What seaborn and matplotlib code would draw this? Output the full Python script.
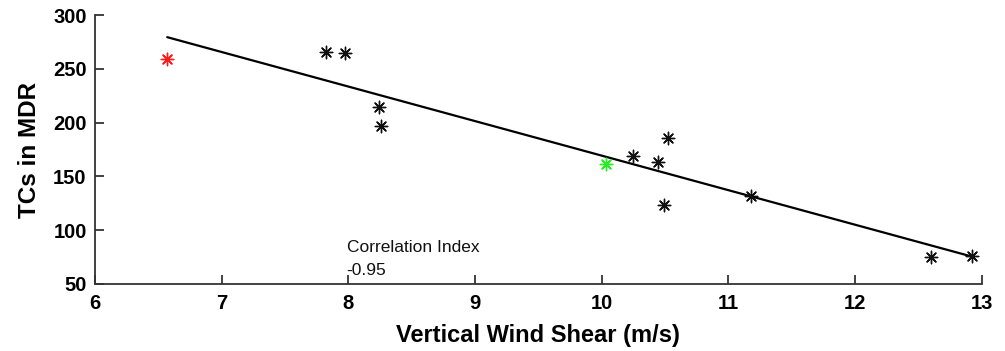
import matplotlib
matplotlib.use("Agg")
import matplotlib.pyplot as plt
import seaborn as sns
import pandas as pd

shear = [6.57, 7.82, 7.97, 8.24, 8.26, 10.03, 10.25, 10.44, 10.52, 10.49, 11.18, 12.60, 12.92]
tcs = [259, 266, 265, 215, 197, 162, 169, 163, 186, 123, 132, 75, 76]
group = ["red", "black", "black", "black", "black", "green", "black", "black",
         "black", "black", "black", "black", "black"]
palette = {"black": "#111111", "red": "#ff1a1a", "green": "#22ee22"}
xticks = [6, 7, 8, 9, 10, 11, 12, 13]
yticks = [50, 100, 150, 200, 250, 300]
corr_label = "Correlation Index"
corr_value = "-0.95"

df = pd.DataFrame({"shear": shear, "tcs": tcs, "group": group})

sns.set_theme(style="white")
plt.rcParams["font.family"] = ["Liberation Sans", "DejaVu Sans"]
plt.rcParams["text.color"] = "black"
plt.rcParams["axes.labelcolor"] = "black"
plt.rcParams["xtick.color"] = "#222222"
plt.rcParams["ytick.color"] = "#222222"

fig = plt.figure(figsize=(10.05, 3.51), dpi=100)
ax = fig.add_axes([0.0945, 0.191, 0.8825, 0.766])

sns.regplot(data=df, x="shear", y="tcs", ci=None, scatter=False, ax=ax,
            line_kws={"color": "black", "lw": 1.6})

asterisk = (8, 2, 0)
for g, sub in df.groupby("group"):
    sns.scatterplot(data=sub, x="shear", y="tcs", ax=ax, marker=asterisk,
                    color=palette[g], s=80, linewidth=1.0, edgecolor=palette[g],
                    legend=False, zorder=3)

ax.set_xlim(6, 13)
ax.set_ylim(50, 300)
ax.set_xticks(xticks)
ax.set_yticks(yticks)
ax.set_xticklabels([str(t) for t in xticks], fontweight="bold", fontsize=14.5, color="black")
ax.set_yticklabels([str(t) for t in yticks], fontweight="bold", fontsize=14.5, color="black")
ax.tick_params(axis="both", direction="in", length=6.5, width=1.2)
ax.tick_params(axis="x", pad=7, bottom=True)
ax.tick_params(axis="y", pad=6, left=True)

for side in ["top", "right"]:
    ax.spines[side].set_visible(False)
for side in ["left", "bottom"]:
    ax.spines[side].set_color("#333333")
    ax.spines[side].set_linewidth(1.3)

ax.set_xlabel("Vertical Wind Shear (m/s)", fontweight="bold", fontsize=17, labelpad=8)
ax.set_ylabel("TCs in MDR", fontweight="bold", fontsize=17.5, labelpad=9)

ax.text(7.99, 83.5, corr_label, fontsize=12.5, va="center", ha="left", color="#111111")
ax.text(7.98, 62.5, corr_value, fontsize=12.5, va="center", ha="left", color="#111111")

fig.savefig("out.png", dpi=100)
